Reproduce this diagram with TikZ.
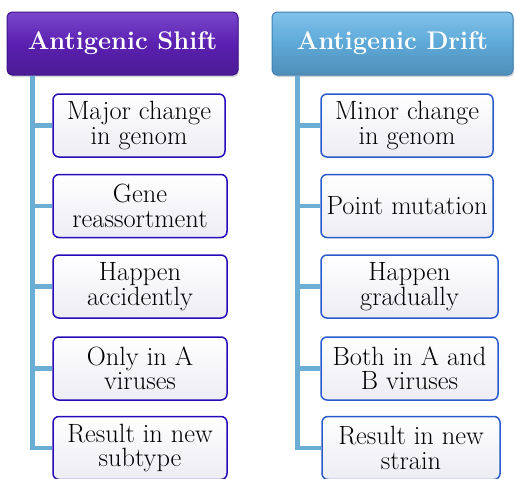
\documentclass[tikz,border=0pt]{standalone}
\usepackage{fontspec}
\usepackage{xcolor}
\usetikzlibrary{shadows}
\definecolor{shiftpurple}{HTML}{5A20B0}
\definecolor{shifttop}{HTML}{7A48CC}
\definecolor{shiftedge}{HTML}{3D138C}
\definecolor{driftblue}{HTML}{5DA8D8}
\definecolor{drifttop}{HTML}{82C2EA}
\definecolor{driftedge}{HTML}{3E80B4}
\definecolor{stemblue}{HTML}{6AAED6}
\definecolor{cardfill}{HTML}{ECECF3}
\tikzset{
  headbox/.style={
    rounded corners=5pt,
    line width=1pt,
    minimum width=#1,
    minimum height=63pt,
    inner sep=2pt,
    text=white,
    font=\fontsize{25.5}{27}\selectfont\bfseries,
    drop shadow={opacity=0.35,shadow xshift=1pt,shadow yshift=-2pt}
  },
  shiftcard/.style={
    draw=shiftedge!60!blue,
    line width=1.5pt,
    rounded corners=6pt,
    top color=white,
    bottom color=cardfill,
    align=center,
    minimum width=#1,
    minimum height=63pt,
    inner sep=2pt,
    font=\fontsize{26.4}{24.5}\selectfont
  },
  driftcard/.style={
    shiftcard=#1,
    draw=driftedge!70!blue
  },
  stem/.style={line width=4.5pt,draw=stemblue}
}
\begin{document}
\begin{tikzpicture}[x=1pt,y=-1pt]
    \useasboundingbox (0,0) rectangle (515,479);

    % column headers
    \node[headbox=231pt,draw=shiftedge,top color=shifttop,bottom color=shiftpurple!85!black,
      middle color=shiftpurple] (shift) at (122.5,43.5) {Antigenic Shift};
    \node[headbox=241pt,draw=driftedge,top color=drifttop,bottom color=driftblue!85!black,
      middle color=driftblue] (drift) at (392.5,43.5) {Antigenic Drift};

    % antigenic shift column
    \node[shiftcard=172pt] (major) at (139,125.5) {Major change\\in genom};
    \node[shiftcard=174pt] (reassort) at (140,206) {Gene\\reassortment};
    \node[shiftcard=174pt] (accident) at (140,286.5) {Happen\\accidently};
    \node[shiftcard=174pt] (onlya) at (140,368.5) {Only in A\\viruses};
    \node[shiftcard=174pt] (subtype) at (140,448) {Result in new\\subtype};

    % antigenic drift column
    \node[driftcard=172pt] (minor) at (407,125.5) {Minor change\\in genom};
    \node[driftcard=172pt] (point) at (407,206) {Point mutation};
    \node[driftcard=177pt] (gradual) at (409.5,286.5) {Happen\\gradually};
    \node[driftcard=177pt] (bothab) at (409.5,368.5) {Both in A and\\B viruses};
    \node[driftcard=178pt] (strain) at (411,448) {Result in new\\strain};

    \foreach \card in {major,reassort,accident,onlya,subtype}
      \draw[stem] ([xshift=26pt]shift.south west) |- (\card.west);
    \foreach \card in {minor,point,gradual,bothab,strain}
      \draw[stem] ([xshift=26pt]drift.south west) |- (\card.west);
  \end{tikzpicture}
\end{document}
